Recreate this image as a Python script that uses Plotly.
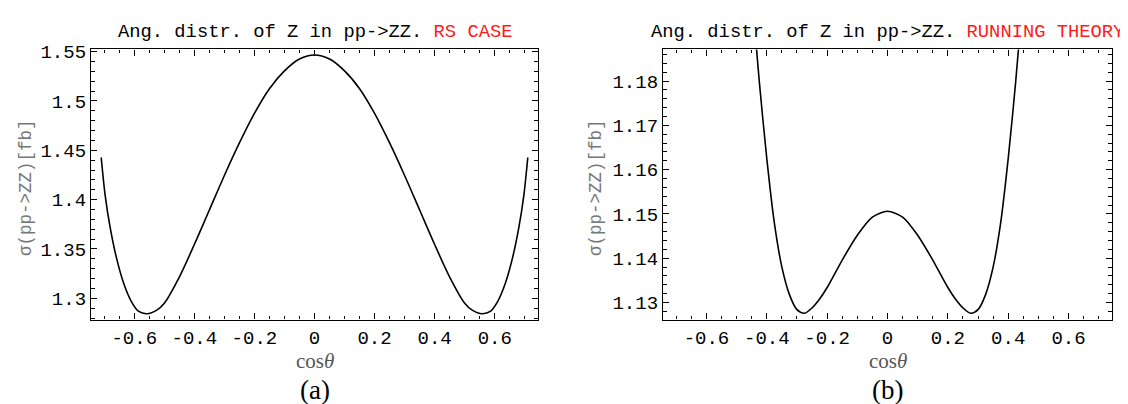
import plotly.graph_objects as go

# ---------------- data ----------------
cos_rs = [-0.71, -0.697, -0.68, -0.66, -0.635, -0.61, -0.585, -0.558, -0.525, -0.5,
          -0.45, -0.4, -0.35, -0.3, -0.25, -0.2, -0.15, -0.1, -0.05, 0.0,
          0.05, 0.1, 0.15, 0.2, 0.25, 0.3, 0.35, 0.4, 0.45,
          0.5, 0.525, 0.558, 0.585, 0.61, 0.635, 0.66, 0.68, 0.697, 0.71]
sigma_rs = [1.4427, 1.4046, 1.3713, 1.3420, 1.3150, 1.2970, 1.2867, 1.2844, 1.2880, 1.2950,
            1.3215, 1.3545, 1.3895, 1.4245, 1.4575, 1.4875, 1.5125, 1.5305, 1.5425, 1.5466,
            1.5425, 1.5305, 1.5125, 1.4875, 1.4575, 1.4245, 1.3895, 1.3545, 1.3215,
            1.2950, 1.2880, 1.2844, 1.2867, 1.2970, 1.3150, 1.3420, 1.3713, 1.4046, 1.4427]

cos_run = [-0.45, -0.425, -0.4, -0.375, -0.35, -0.325, -0.3, -0.275, -0.25, -0.225, -0.2,
           -0.15, -0.1, -0.05, 0.0, 0.05, 0.1, 0.15, 0.2, 0.225, 0.25, 0.275,
           0.3, 0.325, 0.35, 0.375, 0.4, 0.425, 0.45]
sigma_run = [1.2000, 1.1800, 1.1625, 1.1480, 1.1380, 1.1318, 1.1284, 1.1276, 1.1288, 1.1308, 1.1334,
             1.1396, 1.1452, 1.1493, 1.1506, 1.1493, 1.1452, 1.1396, 1.1334, 1.1308, 1.1288, 1.1276,
             1.1284, 1.1318, 1.1380, 1.1480, 1.1625, 1.1800, 1.2000]

x_ticks = [-0.6, -0.4, -0.2, 0, 0.2, 0.4, 0.6]
y_ticks_rs = [1.3, 1.35, 1.4, 1.45, 1.5, 1.55]
y_ticks_run = [1.13, 1.14, 1.15, 1.16, 1.17, 1.18]

x_range = [-0.744, 0.744]
y_range_rs = [1.2784, 1.5523]
y_range_run = [1.12615, 1.18715]

title_main = "Ang. distr. of Z in pp-&gt;ZZ. "
title_rs = "RS CASE"
title_run = "RUNNING THEORY"
y_title = "σ(pp-&gt;ZZ)[fb]"
x_title = "cos<i>θ</i>"
panel_a = "(a)"
panel_b = "(b)"

# ---------------- layout geometry (pixels) ----------------
W, H = 1128, 404
L1, R1 = 83, 530
L2, R2 = 655, 1104
TOP, BOT = 35, 310

def fx(p):
    return p / W

def fy(p):
    return 1 - p / H

MONO = "Liberation Mono, Courier New, monospace"
SERIF = "Liberation Serif, Times New Roman, serif"

fig = go.Figure()
fig.add_trace(go.Scatter(x=cos_rs, y=sigma_rs, mode="lines", xaxis="x", yaxis="y",
                         line=dict(color="black", width=1.6, shape="spline", smoothing=0.8),
                         showlegend=False, hoverinfo="skip"))
fig.add_trace(go.Scatter(x=cos_run, y=sigma_run, mode="lines", xaxis="x2", yaxis="y2",
                         line=dict(color="black", width=1.6, shape="spline", smoothing=0.8),
                         showlegend=False, hoverinfo="skip"))

def fmt(v):
    return f"{v:g}"

tickfont = dict(family=MONO, size=19, color="black")

def xaxis(dom, anchor):
    return dict(domain=dom, anchor=anchor, range=x_range, showgrid=False, zeroline=False,
                showline=True, linecolor="black", linewidth=1.3, mirror="ticks",
                ticks="inside", ticklen=6, tickwidth=1, tickcolor="black",
                tickvals=x_ticks, ticktext=[fmt(v) for v in x_ticks], tickfont=tickfont,
                minor=dict(ticks="inside", dtick=0.05, tick0=0, ticklen=3.5, tickwidth=1,
                           tickcolor="black", showgrid=False),
                fixedrange=True)

def yaxis(dom, anchor, rng, vals, minor_dt):
    return dict(domain=dom, anchor=anchor, range=rng, showgrid=False, zeroline=False,
                showline=True, linecolor="black", linewidth=1.3, mirror="ticks",
                ticks="inside", ticklen=6, tickwidth=1, tickcolor="black",
                tickvals=vals, ticktext=[fmt(v) for v in vals], tickfont=tickfont,
                minor=dict(ticks="inside", dtick=minor_dt, tick0=0, ticklen=3.5, tickwidth=1,
                           tickcolor="black", showgrid=False),
                fixedrange=True)

ydom = [fy(BOT), fy(TOP)]
fig.update_layout(
    width=W, height=H, margin=dict(l=0, r=0, t=0, b=0),
    paper_bgcolor="white", plot_bgcolor="white",
    xaxis=xaxis([fx(L1), fx(R1)], "y"),
    yaxis=yaxis(ydom, "x", y_range_rs, y_ticks_rs, 0.01),
    xaxis2=xaxis([fx(L2), fx(R2)], "y2"),
    yaxis2=yaxis(ydom, "x2", y_range_run, y_ticks_run, 0.002),
)

annots = []
for (l, r, red) in [(L1, R1, title_rs), (L2, R2, title_run)]:
    cx = fx((l + r) / 2)
    annots.append(dict(x=cx, y=fy(17), xref="paper", yref="paper", showarrow=False,
                       xanchor="center", yanchor="middle",
                       text=title_main + f"<span style='color:#ff1a1a'>{red}</span>",
                       font=dict(family=MONO, size=18.8, color="black")))
    annots.append(dict(x=cx, y=fy(352), xref="paper", yref="paper", showarrow=False,
                       xanchor="center", yanchor="middle", text=x_title,
                       font=dict(family=SERIF, size=21, color="#555555")))
for (l, r, lab) in [(L1, R1, panel_a), (L2, R2, panel_b)]:
    annots.append(dict(x=fx((l + r) / 2), y=fy(382), xref="paper", yref="paper", showarrow=False,
                       xanchor="center", yanchor="middle", text=lab,
                       font=dict(family=SERIF, size=27, color="black")))
for xc in [18, 588]:
    annots.append(dict(x=fx(xc), y=fy(176), xref="paper", yref="paper", showarrow=False,
                       xanchor="center", yanchor="middle", text=y_title, textangle=-90,
                       font=dict(family=MONO, size=17.5, color="#777777")))
fig.update_layout(annotations=annots)

fig.write_html("out.html")
